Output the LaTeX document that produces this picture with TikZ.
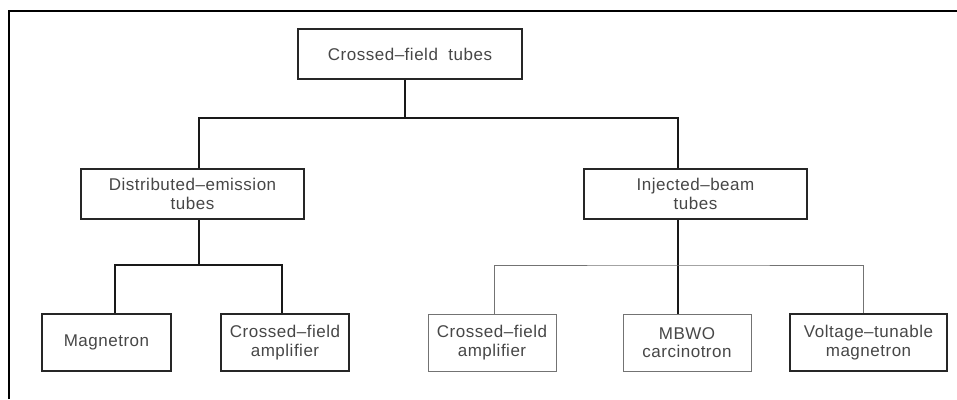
\documentclass[tikz,border=0pt]{standalone}
\usepackage{fontspec}
\setmainfont[LetterSpace=3]{Liberation Sans}
\begin{document}
\begin{tikzpicture}[x=1pt,y=-1pt,
  box/.style={draw=black!85, line width=1.1pt, inner sep=0pt, align=center,
    font=\fontsize{17}{18.5}\selectfont, text=black!72, anchor=center},
  lbox/.style={box, draw=black!55, line width=0.8pt},
  conn/.style={draw=black!90, line width=1.1pt},
  lconn/.style={draw=black!55, line width=0.8pt}]
\useasboundingbox (0,0) rectangle (957,399);
\fill[white] (0,0) rectangle (957,399);
\draw[line width=1.5pt] (9,399) -- (9,11) -- (957,11);

\node[box, minimum width=224, minimum height=50] (top) at (410,54) {Crossed--field\ \ tubes};
\node[box, minimum width=223, minimum height=50] (dl) at (192.5,194) {Distributed--emission\\tubes};
\node[box, minimum width=223, minimum height=50] (dr) at (695.5,194) {Injected--beam\\tubes};
\node[box, minimum width=129, minimum height=57] (mag) at (106.5,342.5) {Magnetron};
\node[box, minimum width=128, minimum height=57] (cfa1) at (285,342.5) {Crossed--field\\amplifier};
\node[lbox, minimum width=128, minimum height=57] (cfa2) at (492,342.5) {Crossed--field\\amplifier};
\node[lbox, minimum width=128, minimum height=57] (mbwo) at (687,342.5) {MBWO\\carcinotron};
\node[box, line width=1.3pt, minimum width=157, minimum height=57] (vtm) at (868.5,342.5) {Voltage--tunable\\magnetron};

\coordinate (j1) at (405,118);
\coordinate (j2) at (199,265);
\coordinate (j3) at (678,265);
\draw[conn] (top.south -| j1) -- (j1);
\draw[conn] ([xshift=6.5]dl.north) |- (j1) -| ([xshift=-17.5]dr.north);
\draw[conn] (dl.south -| j2) -- (j2);
\draw[conn] ([xshift=8.5]mag.north) |- (j2) -| ([xshift=-3]cfa1.north);
\draw[conn] (dr.south -| j3) -- (j3) -- (mbwo.north -| j3);
\draw[lconn] ([xshift=2]cfa2.north) |- (j3) -| ([xshift=-5.5]vtm.north);
\end{tikzpicture}
\end{document}
